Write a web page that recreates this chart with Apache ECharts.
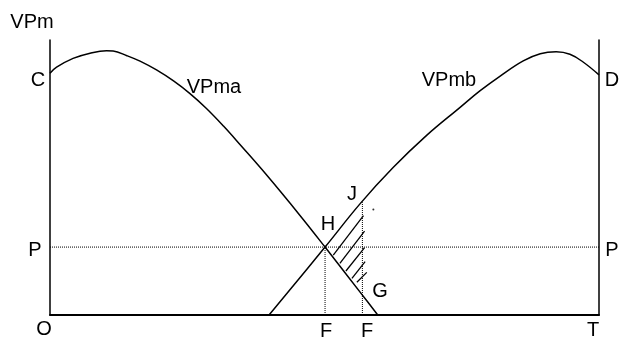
<!DOCTYPE html>
<html>
<head>
<meta charset="utf-8">
<script src="https://cdn.jsdelivr.net/npm/echarts@6/dist/echarts.min.js"></script>
<style>
  html, body { margin: 0; padding: 0; background: #fff; }
  #chart { width: 619px; height: 338px; }
</style>
</head>
<body>
<div id="chart"></div>
<script>
// curves, x = input quantity (O..T = 0..100), y = value (0..100)
var vpmaCurve = [
  [0, 87.9], [1.2, 90.1], [4.2, 93.3], [7.3, 95.2], [10.3, 96.1], [11.5, 96.0],
  [14.0, 94.3], [16.4, 92.3], [19.4, 89.1], [22.5, 85.1], [25.5, 80.5],
  [28.5, 75.1], [31.6, 68.7], [34.6, 62.0], [39.5, 50.8], [45.5, 36.3],
  [50.1, 24.7], [56.8, 7.5], [59.7, 0]
];
var vpmbCurve = [
  [39.9, 0], [50.1, 24.7], [56.5, 40.5], [62.5, 53.6], [68.6, 65.3],
  [74.7, 75.5], [78.3, 81.5], [82.0, 86.9], [86.2, 92.4], [89.3, 95.0],
  [92.2, 95.7], [94.7, 94.8], [97.1, 92.0], [100, 87.3]
];
var priceLevel = 24.7;
var fEqual = 50.1;    // first F, under H
var fOther = 56.9;    // second F, through J and G
var jValue = 41;
// hatching strokes inside triangle H-J-G
var hatchLines = [
  [[51.6, 21.8], [57.1, 36.1]],
  [[52.8, 18.8], [57.3, 30.5]],
  [[53.9, 16.0], [57.3, 24.5]],
  [[55.0, 13.3], [57.4, 19.4]],
  [[55.9, 11.9], [57.7, 15.5]]
];
var strayDot = [[58.9, 38.4]];

var labels = [
  { text: 'VPm', x: 32, y: 22 },
  { text: 'C', x: 38, y: 80 },
  { text: 'D', x: 612, y: 80 },
  { text: 'VPma', x: 214, y: 87 },
  { text: 'VPmb', x: 449, y: 80 },
  { text: 'J', x: 352, y: 194 },
  { text: 'H', x: 328, y: 224 },
  { text: 'P', x: 35, y: 250 },
  { text: 'P', x: 612, y: 250 },
  { text: 'G', x: 380, y: 291 },
  { text: 'O', x: 44, y: 329 },
  { text: 'F', x: 326, y: 331 },
  { text: 'F', x: 367, y: 331 },
  { text: 'T', x: 593, y: 330 }
];

var chart = echarts.init(document.getElementById('chart'), null, { renderer: 'canvas' });

var black = '#000';
function plainLine(name, data, width, type) {
  return {
    name: name,
    type: 'line',
    data: data,
    showSymbol: false,
    symbol: 'none',
    silent: true,
    animation: false,
    lineStyle: { color: black, width: width, type: type || 'solid' }
  };
}

var series = [
  Object.assign(plainLine('VPma', vpmaCurve, 1.5), { smooth: 0.4 }),
  Object.assign(plainLine('VPmb', vpmbCurve, 1.5), { smooth: 0.4 }),
  plainLine('P', [[0, priceLevel], [100, priceLevel]], 1, 'dotted'),
  plainLine('F1', [[fEqual, 0], [fEqual, priceLevel]], 1, 'dotted'),
  plainLine('F2', [[fOther, 0], [fOther, jValue]], 1, 'dotted')
];
hatchLines.forEach(function (seg, i) {
  series.push(plainLine('hatch' + i, seg, 1.3));
});
series.push({
  type: 'scatter',
  data: strayDot,
  symbolSize: 2,
  itemStyle: { color: black },
  silent: true,
  animation: false
});

var option = {
  backgroundColor: '#fff',
  animation: false,
  grid: { left: 50, right: 20, top: 40, bottom: 23 },
  xAxis: {
    type: 'value',
    min: 0,
    max: 100,
    axisLine: { show: true, lineStyle: { color: black, width: 2 } },
    axisTick: { show: false },
    axisLabel: { show: false },
    splitLine: { show: false }
  },
  yAxis: [
    {
      type: 'value',
      min: 0,
      max: 100,
      position: 'left',
      axisLine: { show: true, onZero: false, lineStyle: { color: black, width: 1.5 } },
      axisTick: { show: false },
      axisLabel: { show: false },
      splitLine: { show: false }
    },
    {
      type: 'value',
      min: 0,
      max: 100,
      position: 'right',
      axisLine: { show: true, onZero: false, lineStyle: { color: black, width: 1.5 } },
      axisTick: { show: false },
      axisLabel: { show: false },
      splitLine: { show: false }
    }
  ],
  series: series,
  graphic: labels.map(function (l) {
    return {
      type: 'text',
      x: l.x,
      y: l.y,
      silent: true,
      style: {
        text: l.text,
        fill: black,
        font: '20px "Liberation Sans", Arial, sans-serif',
        textAlign: 'center',
        textVerticalAlign: 'middle'
      }
    };
  })
};

chart.setOption(option);
window.onresize = chart.resize;
</script>
</body>
</html>
